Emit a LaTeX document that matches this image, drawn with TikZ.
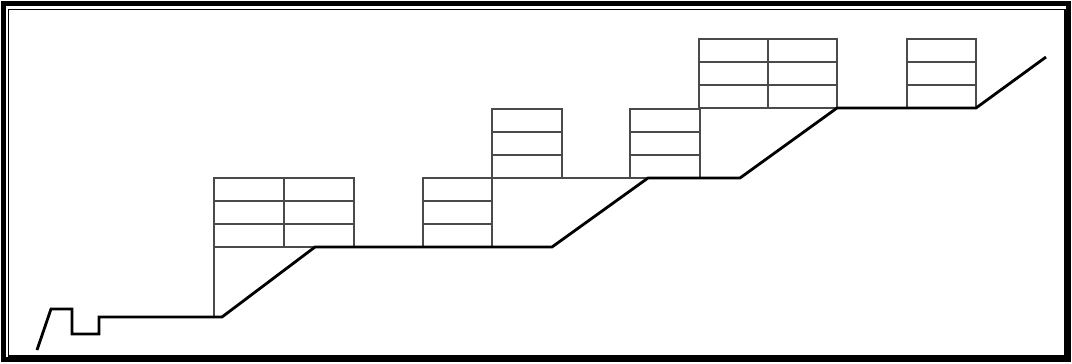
\documentclass[tikz,border=0pt]{standalone}
\usepackage{tikz}
\definecolor{wallgray}{HTML}{4A4A4A}

\begin{document}
\begin{tikzpicture}[x=0.025cm,y=-0.025cm,
    frameout/.style={draw=black,line width=3.5pt},
    framein/.style={draw=black,line width=1.1pt},
    ground/.style={draw=black,line width=2pt,line join=miter},
    wall/.style={draw=wallgray,line width=0.9pt}]
    \useasboundingbox (0,0) rectangle (1072,363);
    % frame
    \draw[frameout] (3.5,3.5) rectangle (1068.5,359.5);
    \draw[framein] (8.5,9.5) rectangle (1065,356);
    % stacked blocks on the terraces
    \foreach \xl/\xr/\yt/\nc in {214/354/178/2,423/492/178/1,492/562/109/1,
        630/700/109/1,699/837/39/2,907/976/39/1} {
      \draw[wall] (\xl,\yt) rectangle (\xr,\yt+69);
      \foreach \k in {1,2}
        \draw[wall] (\xl,\yt+23*\k) -- (\xr,\yt+23*\k);
      \ifnum\nc=2
        \draw[wall] ({(\xl+\xr)/2},\yt) -- ({(\xl+\xr)/2},\yt+69);
      \fi
    }
    \draw[wall] (214,247) -- (214,317);
    \draw[wall] (562,178) -- (648,178);
    % terraced ground profile
    \draw[ground] (37,350) -- (51,309) -- (72,309) -- (72,334) -- (99,334)
      -- (99,317) -- (222,317) -- (315,247) -- (552,247) -- (648,178)
      -- (740,178) -- (837,108) -- (976,108) -- (1046,57);
\end{tikzpicture}
\end{document}
